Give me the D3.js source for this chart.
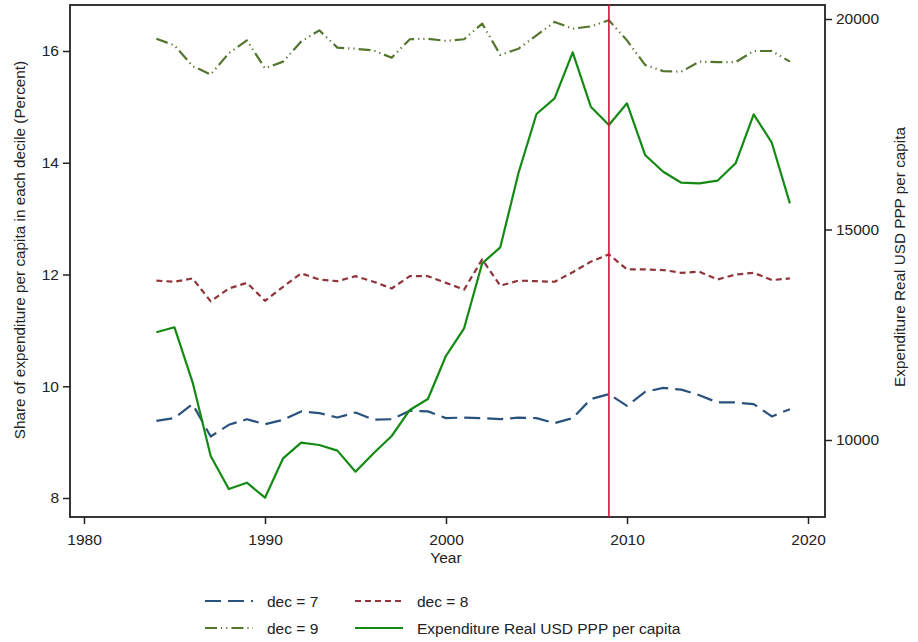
<!DOCTYPE html>
<html>
<head>
<meta charset="utf-8">
<script src="https://cdn.jsdelivr.net/npm/d3@7"></script>
<style>
  html, body { margin: 0; padding: 0; background: #fff; }
  svg { display: block; font-family: "Liberation Sans", Arial, sans-serif; }
</style>
</head>
<body>
<svg id="chart" width="918" height="642"></svg>
<script>
// Survey years
const years = [1984,1985,1986,1987,1988,1989,1990,1991,1992,1993,1994,1995,1996,1997,1998,1999,
  2000,2001,2002,2003,2004,2005,2006,2007,2008,2009,2010,2011,2012,2013,2014,2015,2016,2017,2018,2019];

// Share of expenditure per capita (percent), deciles 7, 8, 9
const dec7 = [9.38,9.43,9.68,9.10,9.31,9.41,9.32,9.40,9.55,9.52,9.44,9.53,9.40,9.41,9.56,9.55,
  9.43,9.44,9.43,9.41,9.44,9.43,9.34,9.43,9.77,9.86,9.65,9.90,9.97,9.94,9.84,9.71,9.71,9.68,9.46,9.59];
const dec8 = [11.89,11.87,11.93,11.52,11.75,11.85,11.53,11.78,12.02,11.91,11.88,11.97,11.87,11.75,11.97,11.97,
  11.85,11.73,12.27,11.80,11.89,11.88,11.87,12.04,12.23,12.36,12.09,12.09,12.08,12.03,12.05,11.91,12.00,12.03,11.90,11.93];
const dec9 = [16.22,16.10,15.73,15.58,15.96,16.19,15.69,15.81,16.17,16.37,16.06,16.04,16.01,15.88,16.21,16.22,
  16.18,16.21,16.49,15.93,16.04,16.28,16.52,16.40,16.44,16.55,16.19,15.75,15.64,15.63,15.81,15.80,15.80,16.00,16.00,15.81];

// Expenditure, real USD PPP per capita
const expenditure = [12558,12677,11370,9620,8836,8986,8630,9565,9936,9881,9747,9248,9684,10095,10713,10974,
  12000,12653,14197,14577,16335,17743,18116,19209,17917,17482,17997,16770,16373,16112,16097,16159,16572,17736,17062,15622];

// Axis ticks and marker year
const xTicks = [1980,1990,2000,2010,2020];
const leftTicks = [8,10,12,14,16];
const rightTicks = [10000,15000,20000];
const markerYear = 2009;

const svg = d3.select("#chart");
const frame = {left: 70, right: 825, top: 5, bottom: 517};

const x = d3.scaleLinear().domain([1980, 2020]).range([84, 808]);
const yL = d3.scaleLinear().domain([8, 16]).range([498, 51]);
const yR = d3.scaleLinear().domain([10000, 20000]).range([440, 19]);

const series = [
  {name: "dec = 7", values: dec7, scale: yL, color: "#2a527e", dash: "16,7", width: 2.2},
  {name: "dec = 8", values: dec8, scale: yL, color: "#90353b", dash: "6,4", width: 2.2},
  {name: "dec = 9", values: dec9, scale: yL, color: "#55752f", dash: "12,4,1.2,4,1.2,4", width: 2.2},
  {name: "Expenditure Real USD PPP per capita", values: expenditure, scale: yR, color: "#148a14", dash: null, width: 2.2}
];

// Plot region outline
svg.append("rect")
  .attr("x", frame.left).attr("y", frame.top)
  .attr("width", frame.right - frame.left).attr("height", frame.bottom - frame.top)
  .attr("fill", "none").attr("stroke", "#222").attr("stroke-width", 1.8);

// Axes
const axisFont = g => g.selectAll("text").attr("font-size", 15.5).attr("fill", "#222")
  .attr("font-family", "'Liberation Sans', Arial, sans-serif");

const gx = svg.append("g").attr("transform", `translate(0,${frame.bottom})`)
  .call(d3.axisBottom(x).tickValues(xTicks).tickFormat(d3.format("d")).tickSize(7).tickPadding(10));
const gl = svg.append("g").attr("transform", `translate(${frame.left},0)`)
  .call(d3.axisLeft(yL).tickValues(leftTicks).tickSize(7).tickPadding(4));
const gr = svg.append("g").attr("transform", `translate(${frame.right},0)`)
  .call(d3.axisRight(yR).tickValues(rightTicks).tickFormat(d3.format("d")).tickSize(7).tickPadding(4));

[gx, gl, gr].forEach(g => {
  g.select(".domain").remove();
  g.selectAll(".tick line").attr("stroke", "#222").attr("stroke-width", 1.5);
  axisFont(g);
});

// Axis titles
svg.append("text").attr("x", x(2000)).attr("y", 563).attr("text-anchor", "middle")
  .attr("font-size", 15.5).attr("fill", "#222").text("Year");
svg.append("text").attr("transform", "translate(25,250) rotate(-90)").attr("text-anchor", "middle")
  .attr("font-size", 15.3).attr("fill", "#222").text("Share of expenditure per capita in each decile (Percent)");
svg.append("text").attr("transform", "translate(905,257) rotate(-90)").attr("text-anchor", "middle")
  .attr("font-size", 15.3).attr("fill", "#222").text("Expenditure Real USD PPP per capita");

// Series lines
series.forEach(s => {
  const line = d3.line().x((d, i) => x(years[i])).y(d => s.scale(d));
  svg.append("path").datum(s.values)
    .attr("d", line)
    .attr("fill", "none")
    .attr("stroke", s.color)
    .attr("stroke-width", s.width)
    .attr("stroke-dasharray", s.dash)
    .attr("stroke-linejoin", "round");
});

// Vertical marker line
svg.append("line")
  .attr("x1", x(markerYear)).attr("x2", x(markerYear))
  .attr("y1", frame.top).attr("y2", frame.bottom)
  .attr("stroke", "#d8133e").attr("stroke-width", 1.6);

// Legend
const legendPos = [
  {x: 205, y: 601}, {x: 355, y: 601},
  {x: 205, y: 628}, {x: 355, y: 628}
];
series.forEach((s, i) => {
  const p = legendPos[i];
  const g = svg.append("g").attr("transform", `translate(${p.x},${p.y})`);
  g.append("line").attr("x1", 0).attr("x2", 48).attr("y1", 0).attr("y2", 0)
    .attr("stroke", s.color).attr("stroke-width", 2.2).attr("stroke-dasharray", s.dash);
  g.append("text").attr("x", 62).attr("y", 5.5).attr("font-size", 15.5).attr("fill", "#222").text(s.name);
});
</script>
</body>
</html>
